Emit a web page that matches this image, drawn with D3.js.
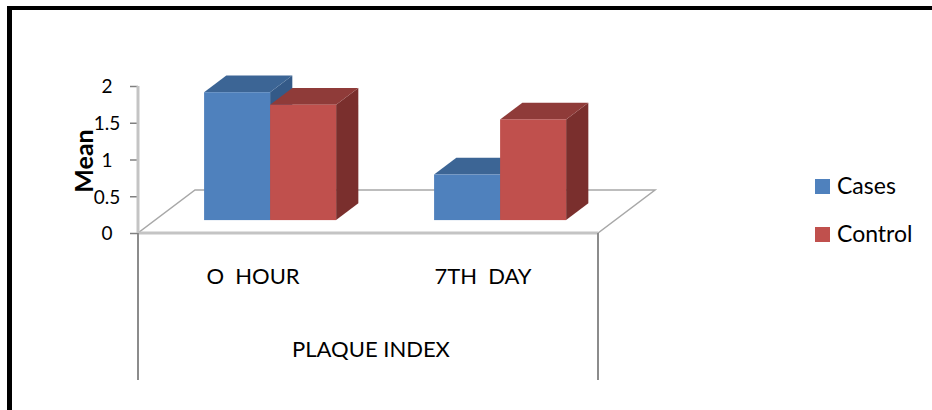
<!DOCTYPE html>
<html>
<head>
<meta charset="utf-8">
<script src="https://cdn.jsdelivr.net/npm/d3@7"></script>
<style>
  html, body { margin: 0; padding: 0; background: #fff; }
  svg { display: block; }
  text { font-family: Lato, "Open Sans", sans-serif; fill: #000; white-space: pre; }
</style>
</head>
<body>
<svg id="chart" width="932" height="410"></svg>
<script>
// Plaque index means by time point
const categories = ["O  HOUR", "7TH  DAY"];
const seriesNames = ["Cases", "Control"];
const casesValues = [1.74, 0.62];
const controlValues = [1.57, 1.37];
const yTicks = [0, 0.5, 1, 1.5, 2];
const axisTitle = "PLAQUE INDEX";
const valueTitle = "Mean";

const svg = d3.select("#chart");

// colour sets per series: front, top, side
const palette = {
  Cases:   { front: "#4F81BD", top: "#3C6595", side: "#345A88" },
  Control: { front: "#C0504D", top: "#8F3B39", side: "#7A2F2D" }
};

// plot geometry
const floorLeft = 138, floorRight = 598, baseY = 233, topY = 86;
const depth = { dx: 57, dy: -43 };        // full floor depth projection
const barFront = 0.3, barBack = 0.69;      // bar slab position inside the floor depth

const y = d3.scaleLinear().domain([0, 2]).range([baseY, topY]);
const x0 = d3.scaleBand().domain(categories).range([floorLeft, floorRight])
  .paddingInner(0.426).paddingOuter(0.213);
const x1 = d3.scaleBand().domain(seriesNames).range([0, x0.bandwidth()]);

const rows = categories.map((c, i) => ({
  category: c,
  bars: [
    { name: "Cases", value: casesValues[i] },
    { name: "Control", value: controlValues[i] }
  ]
}));

// outer frame (top and left edges)
svg.append("line").attr("x1", 7).attr("x2", 932).attr("y1", 8).attr("y2", 8)
  .attr("stroke", "#000").attr("stroke-width", 4);
svg.append("line").attr("x1", 9.5).attr("x2", 9.5).attr("y1", 6).attr("y2", 410)
  .attr("stroke", "#000").attr("stroke-width", 5);

// floor
const fl = [
  [floorLeft, baseY],
  [floorRight, baseY],
  [floorRight + depth.dx, baseY + depth.dy],
  [floorLeft + depth.dx, baseY + depth.dy]
];
svg.append("polygon")
  .attr("points", fl.map(p => p.join(",")).join(" "))
  .attr("fill", "#fff").attr("stroke", "#A8A8A8").attr("stroke-width", 1.5);
svg.append("line").attr("x1", floorLeft).attr("x2", floorRight)
  .attr("y1", baseY).attr("y2", baseY)
  .attr("stroke", "#C4C4C4").attr("stroke-width", 3);

// category separators below the floor
[floorLeft, floorRight].forEach(xv => {
  svg.append("line").attr("x1", xv).attr("x2", xv).attr("y1", baseY).attr("y2", 380)
    .attr("stroke", "#8C8C8C").attr("stroke-width", 2);
});

// value axis
const axisG = svg.append("g").attr("transform", `translate(${floorLeft},0)`)
  .call(d3.axisLeft(y).tickValues(yTicks).tickSize(8).tickFormat(d3.format("")));
axisG.select(".domain").remove();
axisG.selectAll(".tick line").attr("stroke", "#808080").attr("stroke-width", 1.5);
axisG.selectAll(".tick text")
  .attr("x", -31).attr("text-anchor", "middle")
  .attr("dy", "0.36em")
  .style("font-size", "19px");
axisG.append("line").attr("x1", 0).attr("x2", 0).attr("y1", y(0)).attr("y2", y(2))
  .attr("stroke", "#C4C4C4").attr("stroke-width", 3);

// bars
const fx = barFront * depth.dx, fy = barFront * depth.dy;
const bdx = (barBack - barFront) * depth.dx, bdy = (barBack - barFront) * depth.dy;

const groups = svg.selectAll("g.cat").data(rows).join("g").attr("class", "cat");
groups.each(function (row) {
  const g = d3.select(this);
  row.bars.forEach(b => {
    const left = x0(row.category) + x1(b.name) + fx;
    const right = left + x1.bandwidth();
    const top = y(b.value) + fy;
    const bottom = y(0) + fy;
    const col = palette[b.name];
    // right side face
    g.append("polygon")
      .attr("points", [[right, top], [right + bdx, top + bdy], [right + bdx, bottom + bdy], [right, bottom]]
        .map(p => p.join(",")).join(" "))
      .attr("fill", col.side);
    // top face
    g.append("polygon")
      .attr("points", [[left, top], [left + bdx, top + bdy], [right + bdx, top + bdy], [right, top]]
        .map(p => p.join(",")).join(" "))
      .attr("fill", col.top);
    // front face
    g.append("rect")
      .attr("x", left).attr("y", top)
      .attr("width", right - left).attr("height", bottom - top)
      .attr("fill", col.front);
  });
});

// category labels
svg.selectAll("text.cat-label").data(categories).join("text")
  .attr("class", "cat-label")
  .attr("x", d => x0(d) + x0.bandwidth() / 2)
  .attr("y", 284)
  .attr("text-anchor", "middle")
  .style("font-size", "22px")
  .text(d => d);

svg.append("text")
  .attr("x", (floorLeft + floorRight) / 2 + 3)
  .attr("y", 357)
  .attr("text-anchor", "middle")
  .style("font-size", "22px")
  .text(axisTitle);

// value axis title
svg.append("text")
  .attr("transform", "translate(93,161) rotate(-90)")
  .attr("text-anchor", "middle")
  .style("font-size", "25px")
  .style("font-weight", "bold")
  .text(valueTitle);

// legend
const legend = svg.selectAll("g.legend").data(seriesNames).join("g")
  .attr("class", "legend")
  .attr("transform", (d, i) => `translate(815,${179 + i * 48})`);
legend.append("rect").attr("width", 15).attr("height", 15)
  .attr("fill", d => palette[d].front);
legend.append("text").attr("x", 22).attr("y", 15)
  .style("font-size", "23px")
  .text(d => d);
</script>
</body>
</html>
